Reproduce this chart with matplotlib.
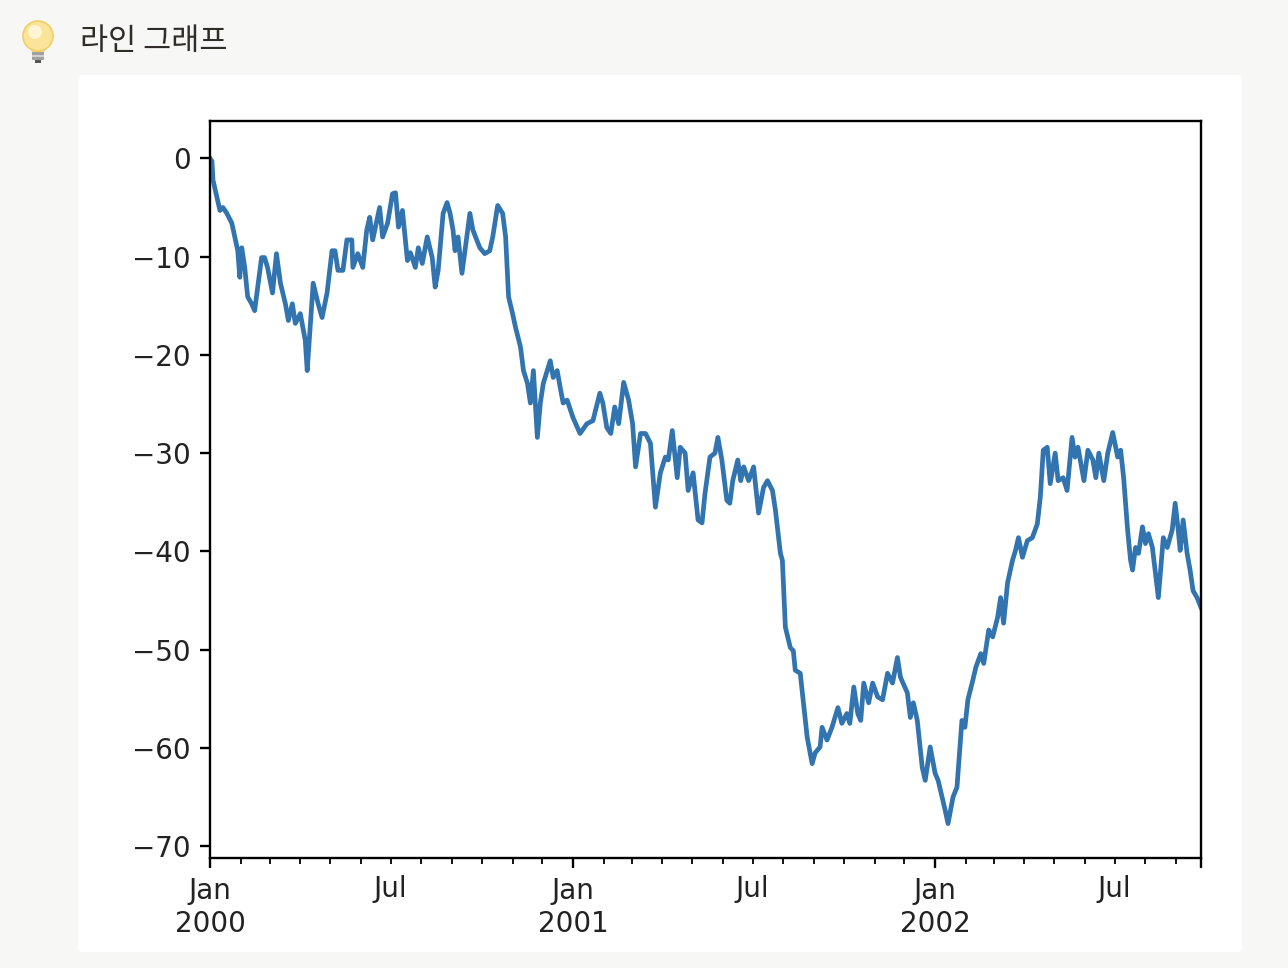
import numpy as np
import pandas as pd
import matplotlib
matplotlib.use("Agg")
import matplotlib.pyplot as plt
import matplotlib.dates as mdates
from matplotlib.patches import FancyBboxPatch, Ellipse, Rectangle, Polygon
from matplotlib.ticker import FixedLocator, FixedFormatter

# days since 2000-01-01 and cumulative value
days = [0, 2, 3, 7, 10, 13, 17, 22, 25, 28, 30, 32, 35, 38, 42, 45, 52, 55, 58, 63,
        67, 71, 76, 79, 83, 86, 91, 96, 98, 104, 109, 113, 118, 123, 126, 129, 134, 138, 143, 144,
        149, 154, 158, 161, 164, 171, 174, 179, 184, 187, 190, 194, 199, 202, 207, 210, 214, 219, 224, 227,
        230, 235, 239, 242, 245, 247, 250, 254, 257, 262, 265, 272, 277, 282, 285, 290, 295, 298, 301, 305,
        308, 313, 316, 320, 323, 326, 330, 333, 336, 343, 346, 350, 353, 356, 360, 366, 373, 380, 386, 393,
        396, 400, 404, 408, 412, 417, 422, 426, 429, 434, 439, 444, 449, 454, 459, 462, 466, 471, 474, 479,
        482, 487, 492, 496, 499, 504, 509, 512, 516, 521, 524, 527, 532, 535, 538, 543, 548, 553, 558, 562,
        567, 570, 575, 577, 580, 585, 588, 590, 595, 602, 607, 610, 615, 617, 622, 627, 633, 637, 642, 645,
        649, 653, 656, 659, 664, 668, 673, 678, 683, 688, 693, 696, 703, 706, 709, 713, 718, 721, 726, 731,
        734, 738, 741, 744, 749, 753, 758, 761, 764, 769, 772, 777, 780, 785, 789, 794, 797, 800, 804, 809,
        812, 815, 819, 824, 829, 834, 837, 840, 844, 847, 852, 855, 860, 864, 869, 872, 875, 881, 885, 890,
        893, 896, 901, 905, 910, 915, 918, 921, 925, 928, 930, 933, 936, 940, 943, 946, 950, 956, 961, 965,
        970, 973, 976, 978, 981, 985, 988, 991, 995, 999]
values = [0.0, -0.3, -2.2, -4.0, -5.3, -5.0, -5.6, -6.6, -8.0, -9.4, -12.1, -9.1, -11.1, -14.1, -14.8, -15.5, -10.1, -10.1, -11.1, -13.7,
          -9.7, -12.7, -14.8, -16.5, -14.8, -16.8, -15.8, -18.5, -21.6, -12.7, -14.8, -16.2, -13.7, -9.4, -9.4, -11.4, -11.4, -8.3, -8.3, -11.1,
          -9.7, -11.1, -7.3, -6.0, -8.3, -5.0, -8.0, -6.6, -3.6, -3.5, -7.0, -5.3, -10.4, -9.6, -11.1, -9.1, -10.7, -8.0, -10.1, -13.1,
          -11.4, -5.6, -4.5, -5.6, -7.3, -9.4, -8.0, -11.7, -9.4, -5.6, -7.3, -9.1, -9.7, -9.4, -8.0, -4.8, -5.6, -8.0, -14.1, -15.8,
          -17.2, -19.2, -21.6, -22.9, -24.9, -21.6, -28.4, -24.9, -22.9, -20.6, -22.3, -21.6, -23.3, -24.9, -24.6, -26.4, -28.0, -27.0, -26.7, -23.9,
          -24.9, -27.4, -28.0, -25.3, -27.0, -22.8, -24.6, -27.0, -31.4, -28.0, -28.0, -29.0, -35.5, -32.0, -30.4, -30.7, -27.7, -32.5, -29.4, -30.0,
          -33.8, -32.0, -36.8, -37.1, -34.1, -30.4, -30.0, -28.4, -30.7, -34.8, -35.1, -32.8, -30.7, -32.8, -31.4, -32.8, -31.4, -36.1, -33.5, -32.8,
          -33.8, -35.8, -40.2, -40.9, -47.7, -49.8, -50.1, -52.1, -52.4, -58.9, -61.6, -60.5, -59.9, -57.9, -59.2, -57.9, -55.9, -57.5, -56.5, -57.5,
          -53.8, -56.5, -57.2, -53.4, -55.4, -53.4, -54.8, -55.1, -52.4, -53.4, -50.8, -52.8, -54.4, -56.9, -55.4, -57.2, -62.0, -63.3, -59.9, -62.6,
          -63.3, -65.0, -66.3, -67.7, -65.0, -64.0, -57.2, -57.9, -55.1, -53.1, -51.8, -50.4, -51.4, -48.0, -48.7, -46.7, -44.7, -47.3, -43.2, -40.9,
          -39.9, -38.6, -40.6, -38.9, -38.6, -37.2, -34.5, -29.7, -29.4, -33.1, -30.0, -32.8, -32.5, -33.8, -28.4, -30.4, -29.4, -32.8, -29.7, -30.7,
          -32.5, -30.0, -32.8, -30.0, -27.9, -30.4, -29.7, -32.5, -37.8, -40.9, -41.9, -39.6, -40.2, -37.5, -39.2, -38.2, -39.6, -44.7, -38.6, -39.6,
          -37.8, -35.1, -37.8, -39.9, -36.8, -40.2, -41.9, -44.0, -44.7, -45.7]

yticks = [0, -10, -20, -30, -40, -50, -60, -70]
title = "라인 그래프"

start = pd.Timestamp("2000-01-01")
dates = start + pd.to_timedelta(days, unit="D")
end = start + pd.Timedelta(days=999)

W, H = 1288, 968
fig = plt.figure(figsize=(W / 100, H / 100), dpi=100)
fig.patch.set_facecolor("#f7f7f5")

# page layer in pixel coordinates
bg = fig.add_axes([0, 0, 1, 1])
bg.set_xlim(0, W)
bg.set_ylim(H, 0)
bg.axis("off")
bg.add_patch(FancyBboxPatch((78, 75), 1164, 877, boxstyle="round,pad=0,rounding_size=4",
                            facecolor="white", edgecolor="none"))
# light bulb icon
bg.add_patch(Polygon([(30, 44), (46, 44), (44, 53), (32, 53)], closed=True,
                     facecolor="#f6d66e", edgecolor="none"))
bg.add_patch(Ellipse((38, 36), 30, 30, facecolor="#fbe49a", edgecolor="#f0cf6a", lw=1.2))
bg.add_patch(Ellipse((35, 32), 14, 14, facecolor="#fff5d2", edgecolor="none"))
bg.add_patch(Rectangle((32, 52), 12, 8, facecolor="#a0a0a0", edgecolor="none"))
bg.add_patch(Rectangle((32, 55), 12, 1.5, facecolor="#d0d0d0", edgecolor="none"))
bg.add_patch(Rectangle((35, 60), 6, 3, facecolor="#555555", edgecolor="none"))
bg.text(80, 42, title, fontsize=22, color="#2f2d28", va="center", ha="left",
        family=["Noto Sans CJK KR", "DejaVu Sans"])

ax = fig.add_axes([210 / W, 1 - 858 / H, 991 / W, 737 / H])
ax.plot(dates, values, color="#3274b0", lw=3.4)
ax.set_xlim(start, end)
ax.set_ylim(-71.2, 3.8)
ax.set_yticks(yticks)

major = [start, pd.Timestamp("2001-01-01"), pd.Timestamp("2002-01-01"), end]
ax.xaxis.set_major_locator(FixedLocator(mdates.date2num(major)))
ax.xaxis.set_major_formatter(FixedFormatter(["Jan\n2000", "Jan\n2001", "Jan\n2002", ""]))
months = pd.date_range("2000-02-01", "2002-09-01", freq="MS")
months = [m for m in months if m.month != 1]
ax.xaxis.set_minor_locator(FixedLocator(mdates.date2num(months)))
ax.xaxis.set_minor_formatter(FixedFormatter(["Jul" if m.month == 7 else "" for m in months]))

for s in ax.spines.values():
    s.set_linewidth(1.7)
ax.tick_params(axis="both", which="major", length=7, width=1.7, labelsize=20, pad=7, color="black")
ax.tick_params(axis="x", which="minor", length=4, width=1.3, labelsize=20, pad=8.5)
for lab in ax.get_yticklabels() + ax.get_xticklabels() + ax.get_xticklabels(minor=True):
    lab.set_color("#222222")

fig.savefig("out.png", dpi=100, facecolor=fig.get_facecolor())
